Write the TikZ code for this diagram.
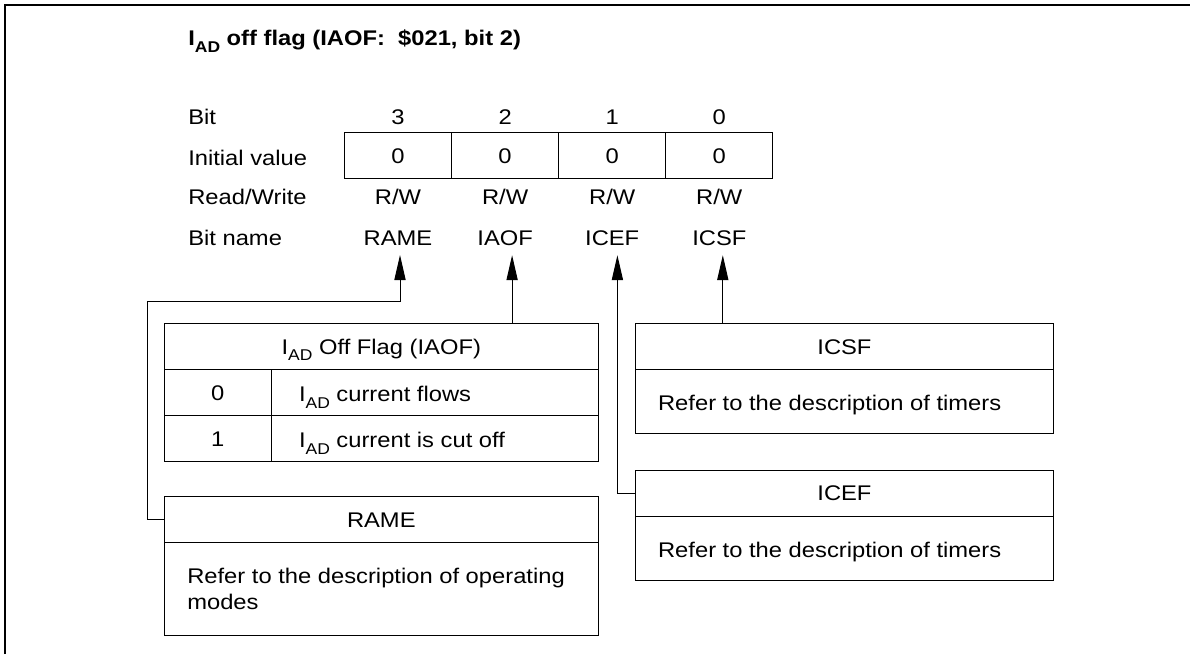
\documentclass[tikz,border=0pt]{standalone}
\usepackage{fontspec}
\setmainfont[FakeStretch=1.12]{Liberation Sans}
\usetikzlibrary{arrows.meta,calc}
\newcommand{\mysub}[1]{\raisebox{-0.32em}{\fontsize{7.8pt}{8pt}\selectfont #1}}
\begin{document}
\begin{tikzpicture}[x=0.5pt,y=-0.5pt,
  every node/.style={inner sep=0pt, outer sep=0pt, font=\fontsize{10.6pt}{13pt}\selectfont},
  ctr/.style={anchor=base},
  lft/.style={anchor=base west},
  cell/.style={draw, line width=0.5pt, anchor=north west, text height=7.6pt, text depth=0pt},
  arr/.style={line width=0.5pt, -{Triangle[length=12.5pt,width=5.6pt]}},
  frame/.style={line width=0.6pt}]
\useasboundingbox (0,0) rectangle (1190,654);
\draw[frame] (5,654) -- (5,5) -- (1190,5);

% title
\node[lft, font=\fontsize{10.6pt}{13pt}\selectfont\bfseries] (title) at (188.3,45.5) {I\mysub{AD} off flag (IAOF:~~\$021, bit 2)};

% row labels
\node[lft] (lBit) at (188.3,124) {Bit};
\node[lft] (lInit) at (188.3,165) {Initial value};
\node[lft] (lRW) at (188.3,204) {Read/Write};
\node[lft] (lName) at (188.3,245) {Bit name};

% bit numbers
\node[ctr] (b3) at (398.0,124) {3};
\node[ctr] (b2) at (505.1,124) {2};
\node[ctr] (b1) at (612.2,124) {1};
\node[ctr] (b0) at (719.3,124) {0};

% register cells
\node[cell, minimum width=53.55pt, minimum height=22.8pt] (c3) at (344.4,132.7) {0};
\node[cell, minimum width=53.55pt, minimum height=22.8pt] (c2) at (451.5,132.7) {0};
\node[cell, minimum width=53.55pt, minimum height=22.8pt] (c1) at (558.6,132.7) {0};
\node[cell, minimum width=53.55pt, minimum height=22.8pt] (c0) at (665.7,132.7) {0};

% read/write
\node[ctr] (rw3) at (398.0,204) {R/W};
\node[ctr] (rw2) at (505.1,204) {R/W};
\node[ctr] (rw1) at (612.2,204) {R/W};
\node[ctr] (rw0) at (719.3,204) {R/W};

% bit names
\node[ctr] (nRAME) at (398.0,245) {RAME};
\node[ctr] (nIAOF) at (505.1,245) {IAOF};
\node[ctr] (nICEF) at (612.2,245) {ICEF};
\node[ctr] (nICSF) at (719.3,245) {ICSF};

% IAOF table
\node[cell, minimum width=217pt, minimum height=23.2pt] (iaofH) at (164.3,323.3) {I\mysub{AD} Off Flag (IAOF)};
\node[cell, minimum width=53.55pt, minimum height=23pt] (iaof0a) at (164.3,369.7) {0};
\node[cell, minimum width=163.45pt, minimum height=23pt] (iaof0b) at (271.4,369.7) {};
\node[cell, minimum width=53.55pt, minimum height=23pt] (iaof1a) at (164.3,415.7) {1};
\node[cell, minimum width=163.45pt, minimum height=23pt] (iaof1b) at (271.4,415.7) {};
\node[lft] (iaof0t) at (299,401.5) {I\mysub{AD} current flows};
\node[lft] (iaof1t) at (299,447.5) {I\mysub{AD} current is cut off};

% RAME box
\node[cell, minimum width=217pt, minimum height=23pt] (rameH) at (164.3,496.7) {RAME};
\node[cell, minimum width=217pt, minimum height=46.15pt] (rameB) at (164.3,542.7) {};
\node[lft] (rameT1) at (187.3,583.3) {Refer to the description of operating};
\node[lft] (rameT2) at (187.3,609.3) {modes};

% ICSF box
\node[cell, minimum width=208.55pt, minimum height=23.2pt] (icsfH) at (635.9,323.3) {ICSF};
\node[cell, minimum width=208.55pt, minimum height=31.8pt] (icsfB) at (635.9,369.7) {};
\node[lft] (icsfT) at (658.1,410) {Refer to the description of timers};

% ICEF box
\node[cell, minimum width=208.55pt, minimum height=23pt] (icefH) at (635.9,470) {ICEF};
\node[cell, minimum width=208.55pt, minimum height=32pt] (icefB) at (635.9,516) {};
\node[lft] (icefT) at (658.1,557) {Refer to the description of timers};

% arrow tips
\coordinate (tRAME) at ([xshift=1pt,yshift=-5pt]nRAME.south);
\coordinate (tIAOF) at ([xshift=3.5pt,yshift=-5pt]nIAOF.south);
\coordinate (tICEF) at ([xshift=2.6pt,yshift=-5pt]nICEF.south);
\coordinate (tICSF) at ([xshift=1.75pt,yshift=-5pt]nICSF.south);

% connectors
\draw[arr] (rameH.west) -- ++(-16.5,0) |- ([yshift=-23.35pt]tRAME) -- (tRAME);
\draw[arr] (iaofH.north -| tIAOF) -- (tIAOF);
\draw[arr] (icefH.west) -| (tICEF);
\draw[arr] (icsfH.north -| tICSF) -- (tICSF);
\end{tikzpicture}
\end{document}
